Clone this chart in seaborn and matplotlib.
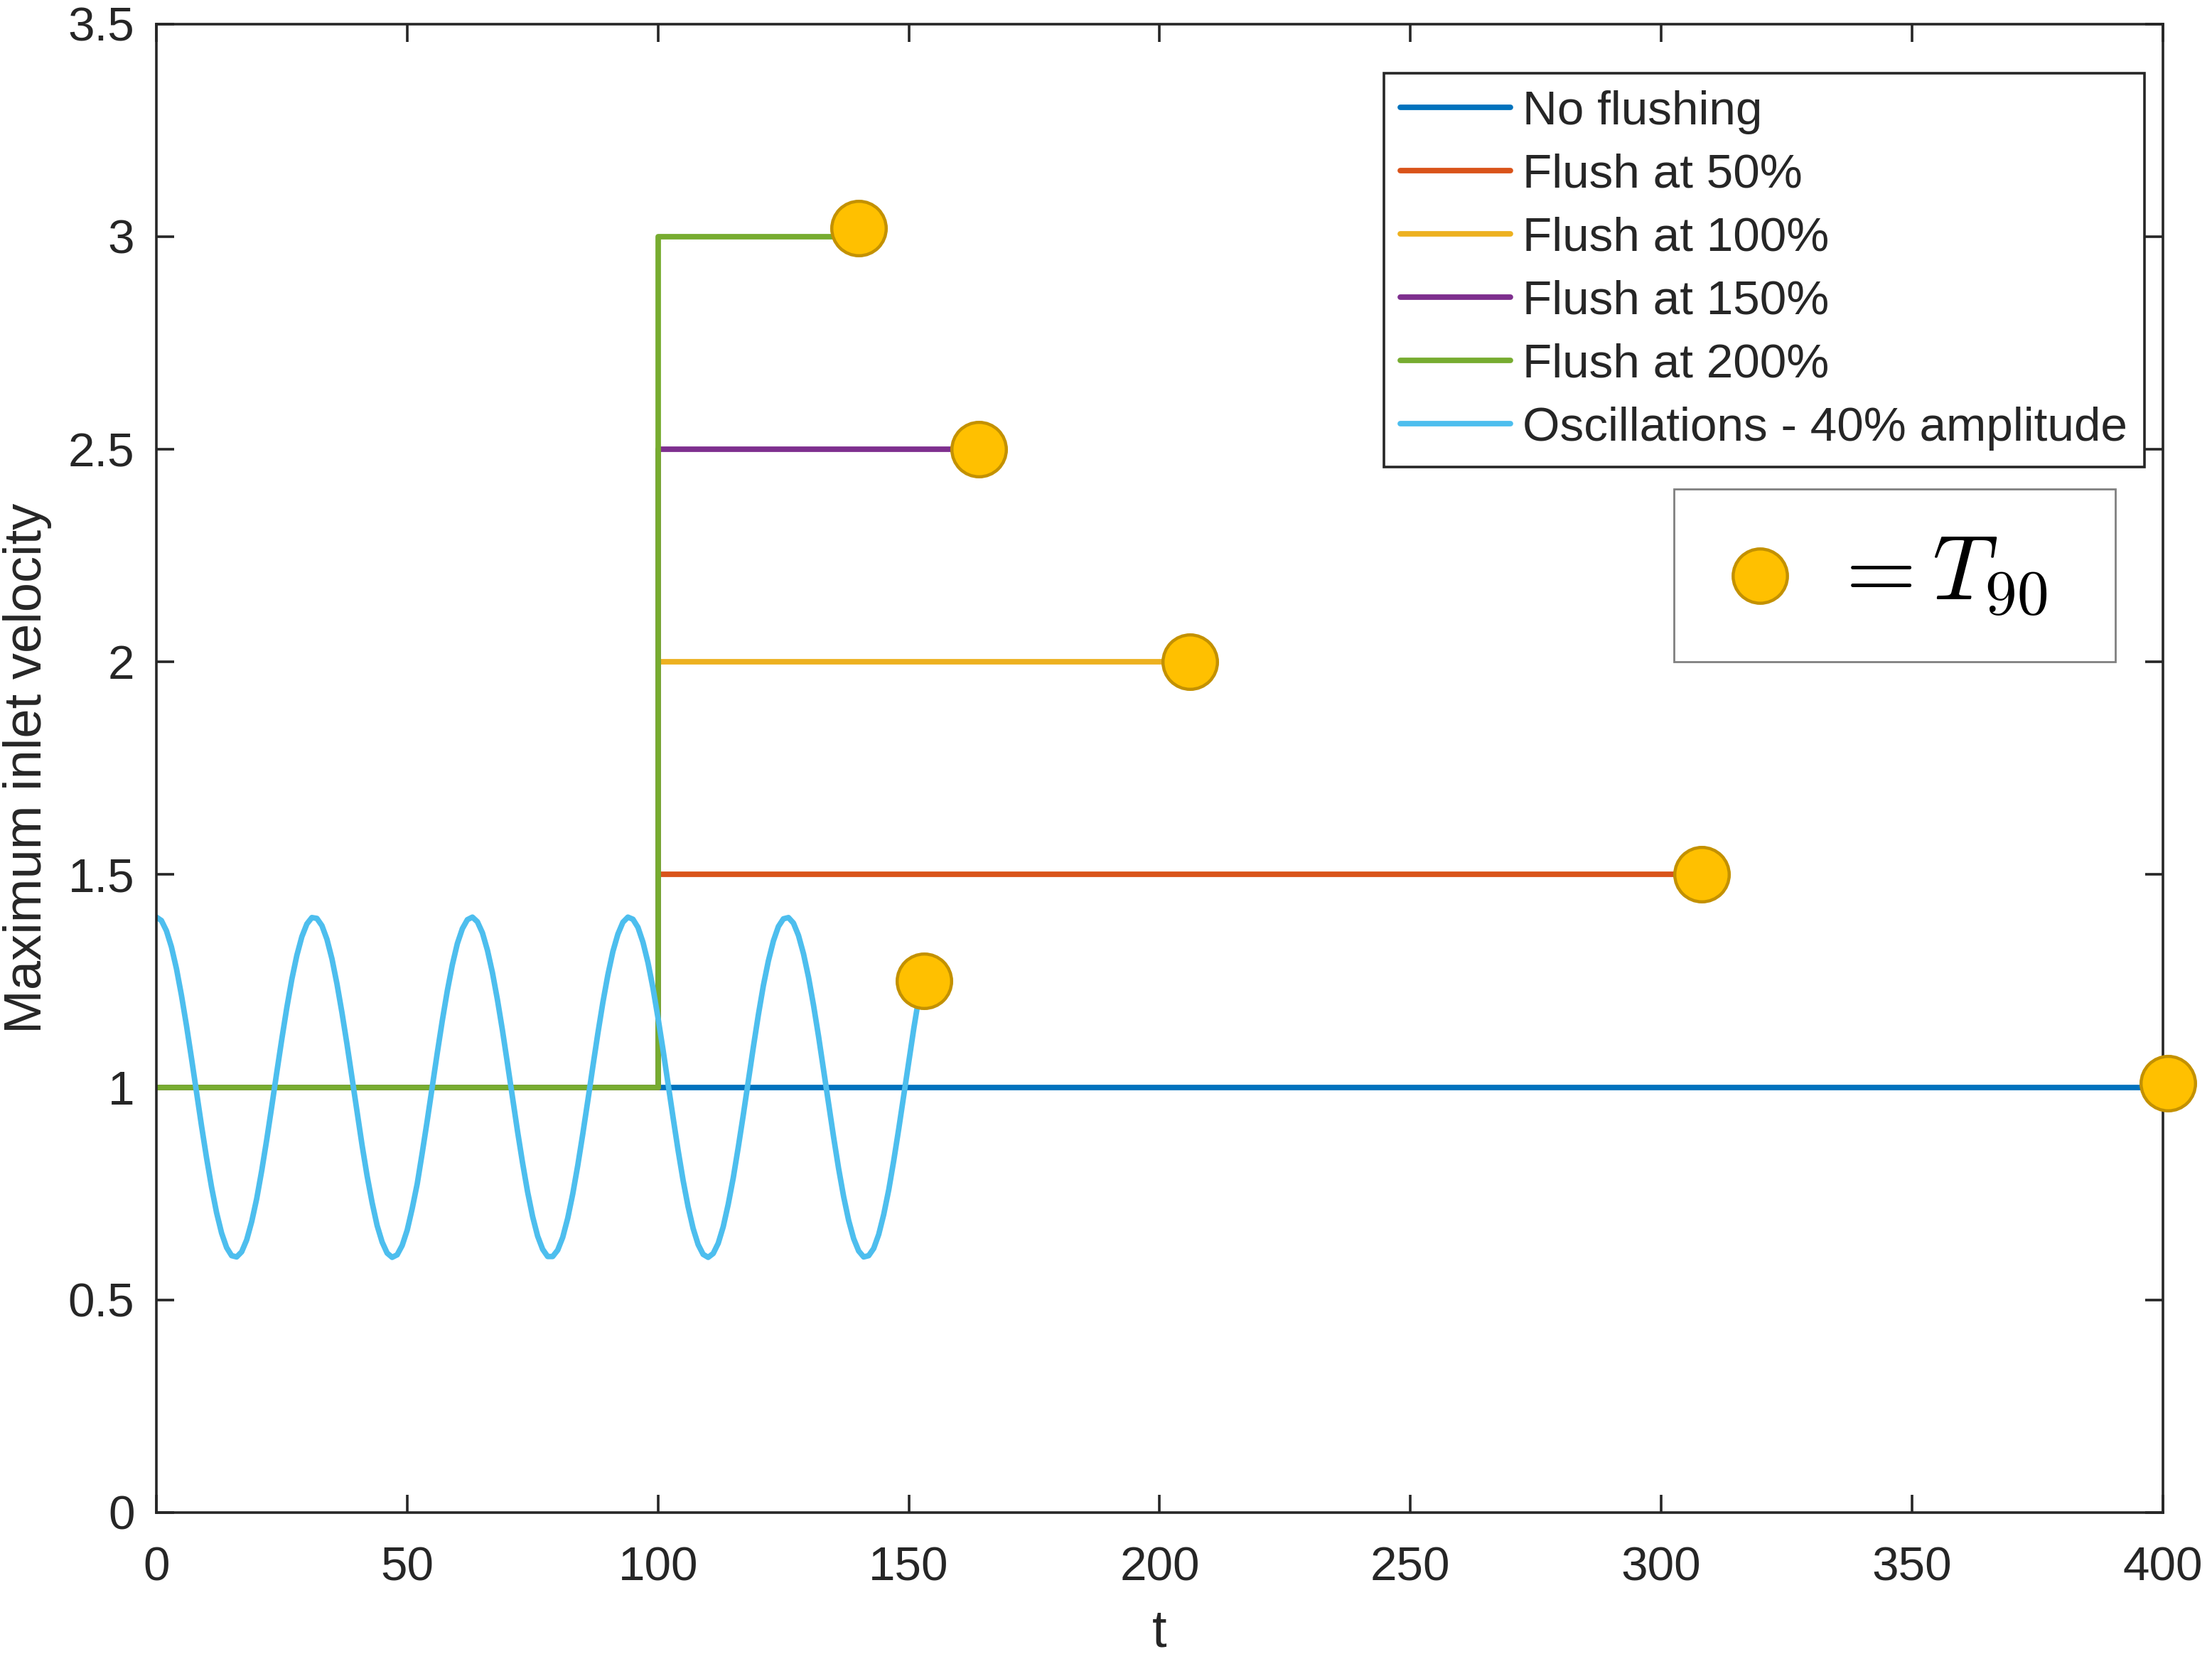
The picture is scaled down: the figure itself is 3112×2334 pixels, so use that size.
import pandas as pd
import matplotlib
matplotlib.use("Agg")
import matplotlib.pyplot as plt
import seaborn as sns
from matplotlib.patches import Rectangle

# --- data ---
t_end = 400
flush_time = 100
flush_names = ["Flush at 50%", "Flush at 100%", "Flush at 150%", "Flush at 200%"]
flush_levels = [1.5, 2.0, 2.5, 3.0]
flush_end = [308, 206, 164, 140]

# oscillating inlet velocity, one sample per time unit (t = 0..152)
osc_t = list(range(0, 153))
osc_v = [1.400, 1.392, 1.368, 1.330, 1.279, 1.216, 1.145, 1.068, 0.988, 0.909,
         0.834, 0.765, 0.705, 0.657, 0.623, 0.604, 0.601, 0.613, 0.641, 0.684,
         0.738, 0.804, 0.877, 0.955, 1.035, 1.113, 1.187, 1.254, 1.310, 1.354,
         1.384, 1.399, 1.397, 1.380, 1.348, 1.302, 1.243, 1.175, 1.101, 1.022,
         0.942, 0.864, 0.792, 0.729, 0.675, 0.636, 0.610, 0.600, 0.606, 0.628,
         0.664, 0.715, 0.773, 0.846, 0.922, 1.002, 1.081, 1.157, 1.227, 1.288,
         1.338, 1.373, 1.394, 1.400, 1.389, 1.363, 1.322, 1.269, 1.205, 1.133,
         1.055, 0.975, 0.896, 0.822, 0.754, 0.696, 0.650, 0.619, 0.602, 0.602,
         0.617, 0.647, 0.692, 0.749, 0.816, 0.890, 0.968, 1.048, 1.126, 1.199,
         1.264, 1.319, 1.360, 1.388, 1.400, 1.395, 1.376, 1.341, 1.293, 1.233,
         1.163, 1.088, 1.008, 0.929, 0.852, 0.781, 0.719, 0.668, 0.630, 0.607,
         0.600, 0.609, 0.633, 0.672, 0.725, 0.787, 0.859, 0.935, 1.015, 1.094,
         1.170, 1.239, 1.297, 1.344, 1.378, 1.396, 1.399, 1.386, 1.357, 1.314,
         1.259, 1.193, 1.120, 1.041, 0.961, 0.883, 0.809, 0.743, 0.687, 0.644,
         0.615, 0.601, 0.604, 0.621, 0.654, 0.701, 0.759, 0.828, 0.903, 0.982,
         1.062, 1.139, 1.211]

# T90 markers
t90_t = [401, 308, 206, 164, 140, 153]
t90_v = [1.01, 1.50, 2.00, 2.50, 3.02, 1.25]

series_names = ["No flushing"] + flush_names + ["Oscillations - 40% amplitude"]
colors = ["#0072BD", "#D95319", "#EDB120", "#7E2F8E", "#77AC30", "#4DBEEE"]

# long table for seaborn
rows = [("No flushing", 0, 1.0), ("No flushing", t_end, 1.0)]
for name, lev, te in zip(flush_names, flush_levels, flush_end):
    rows += [(name, 0, 1.0), (name, flush_time, 1.0), (name, flush_time, lev), (name, te, lev)]
for t, v in zip(osc_t, osc_v):
    rows.append(("Oscillations - 40% amplitude", t, v))
df = pd.DataFrame(rows, columns=["case", "t", "v"])

sns.set_theme(style="ticks")
plt.rcParams["font.family"] = ["Liberation Sans", "DejaVu Sans"]
plt.rcParams["mathtext.fontset"] = "cm"

fig = plt.figure(figsize=(15.56, 11.67), dpi=200)
ax = fig.add_axes([0.0707, 0.0883, 0.9071, 0.8972])

sns.lineplot(data=df, x="t", y="v", hue="case", hue_order=series_names,
             palette=colors, estimator=None, sort=False, linewidth=2.8,
             ax=ax, legend=True)

sns.scatterplot(x=t90_t, y=t90_v, s=760, color="#FFC000", edgecolor="#C39100",
                linewidth=1.6, zorder=5, ax=ax, clip_on=False, legend=False)

ax.set_xlim(0, 400)
ax.set_ylim(0, 3.5)
ax.set_xticks(range(0, 401, 50))
ax.set_yticks([0, 0.5, 1, 1.5, 2, 2.5, 3, 3.5])
ax.set_yticklabels(["0", "0.5", "1", "1.5", "2", "2.5", "3", "3.5"])

axcol = "#262626"
for sp in ax.spines.values():
    sp.set_visible(True)
    sp.set_color(axcol)
    sp.set_linewidth(1.3)
ax.tick_params(direction="in", top=True, right=True, length=9, width=1.3,
               color=axcol, labelcolor=axcol, labelsize=24.3)
ax.tick_params(axis="x", pad=17)
ax.tick_params(axis="y", pad=11)
ax.set_xlabel("t", fontsize=26.7, color=axcol, labelpad=9)
ax.set_ylabel("Maximum inlet velocity", fontsize=26.7, color=axcol, labelpad=8)

leg = ax.legend(loc="upper right", bbox_to_anchor=(0.9908, 0.9670), borderaxespad=0,
                fontsize=24.3, fancybox=False, framealpha=1, edgecolor=axcol,
                handlelength=2.3, handletextpad=0.25, labelspacing=0.40,
                borderpad=0.35)
leg.get_frame().set_linewidth(1.3)
for line in leg.get_lines():
    line.set_linewidth(2.8)

# second box: marker = T90
ax.add_patch(Rectangle((0.7563, 0.5716), 0.2200, 0.1161, transform=ax.transAxes,
                       facecolor="white", edgecolor="#808080", linewidth=1.0, zorder=6))
ax.plot([0.7992], [0.6294], transform=ax.transAxes, marker="o", markersize=27.5,
        markerfacecolor="#FFC000", markeredgecolor="#C39100", markeredgewidth=1.6,
        zorder=7, clip_on=False)
ax.text(0.834, 0.6137, r"$= T_{90}$", transform=ax.transAxes, fontsize=46,
        ha="left", va="baseline", color="black", zorder=7)

fig.savefig("out.png", dpi=200)
